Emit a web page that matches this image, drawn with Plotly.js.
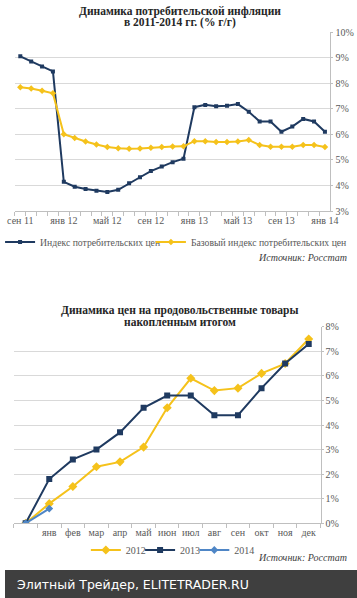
<!DOCTYPE html>
<html>
<head>
<meta charset="utf-8">
<script src="https://cdn.plot.ly/plotly-3.0.1.min.js"></script>
<style>
html,body{margin:0;padding:0;background:#fff;}
#chart{width:357px;height:598px;}
</style>
</head>
<body>
<div id="chart"></div>
<script>
// ---- Chart 1: consumer inflation, % y/y ----
var months = ["сен 11","окт 11","ноя 11","дек 11","янв 12","фев 12","мар 12","апр 12","май 12","июн 12","июл 12","авг 12","сен 12","окт 12","ноя 12","дек 12","янв 13","фев 13","мар 13","апр 13","май 13","июн 13","июл 13","авг 13","сен 13","окт 13","ноя 13","дек 13","янв 14"];
var labeledMonths = ["сен 11","янв 12","май 12","сен 12","янв 13","май 13","сен 13","янв 14"];
var cpi = [9.05, 8.85, 8.65, 8.46, 4.14, 3.95, 3.86, 3.79, 3.74, 3.83, 4.09, 4.32, 4.56, 4.74, 4.91, 5.04, 7.06, 7.15, 7.10, 7.12, 7.18, 6.88, 6.50, 6.50, 6.10, 6.30, 6.60, 6.50, 6.10];
var coreCpi = [7.84, 7.79, 7.70, 7.60, 6.00, 5.85, 5.72, 5.60, 5.50, 5.45, 5.43, 5.44, 5.47, 5.50, 5.52, 5.53, 5.73, 5.73, 5.70, 5.70, 5.72, 5.78, 5.58, 5.51, 5.51, 5.51, 5.58, 5.58, 5.50];
var yTicks1 = [3, 4, 5, 6, 7, 8, 9, 10];

// ---- Chart 2: food prices, cumulative % ----
var foodCats = ["нач.","янв","фев","мар","апр","май","июн","июл","авг","сен","окт","ноя","дек"];
var foodLabels = ["","янв","фев","мар","апр","май","июн","июл","авг","сен","окт","ноя","дек"];
var food2012 = [0, 0.8, 1.5, 2.3, 2.5, 3.1, 4.7, 5.9, 5.4, 5.5, 6.1, 6.5, 7.5];
var food2013 = [0, 1.8, 2.6, 3.0, 3.7, 4.7, 5.2, 5.2, 4.4, 4.4, 5.5, 6.5, 7.3];
var food2014 = [0, 0.6];
var yTicks2 = [0, 1, 2, 3, 4, 5, 6, 7, 8];

var W = 357, H = 598;
function px(x){ return x / W; }
function py(y){ return 1 - y / H; }
function pct(v){ return v + "%"; }

var DARK = "#1f3a60", YEL = "#f5c21b", LBLUE = "#4f86c6";
var SERIF = "Liberation Serif, DejaVu Serif, serif";
var GRID = "#d9d9d9", AXIS = "#bfbfbf", TXT = "#595959";

var traces = [
  {x: months, y: cpi, type: "scatter", mode: "lines+markers", name: "Индекс потребительских цен",
   line: {color: DARK, width: 2}, marker: {symbol: "square", size: 4, color: DARK},
   xaxis: "x", yaxis: "y", legend: "legend"},
  {x: months, y: coreCpi, type: "scatter", mode: "lines+markers", name: "Базовый индекс потребительских цен",
   line: {color: YEL, width: 2}, marker: {symbol: "diamond", size: 5, color: YEL},
   xaxis: "x", yaxis: "y", legend: "legend2"},
  {x: foodCats, y: food2012, type: "scatter", mode: "lines+markers", name: "2012",
   line: {color: YEL, width: 2}, marker: {symbol: "diamond", size: 7, color: YEL},
   xaxis: "x2", yaxis: "y2", legend: "legend3"},
  {x: foodCats, y: food2013, type: "scatter", mode: "lines+markers", name: "2013",
   line: {color: DARK, width: 2}, marker: {symbol: "square", size: 6, color: DARK},
   xaxis: "x2", yaxis: "y2", legend: "legend4"},
  {x: foodCats.slice(0, food2014.length), y: food2014, type: "scatter", mode: "lines+markers", name: "2014",
   line: {color: LBLUE, width: 2}, marker: {symbol: "diamond", size: 6, color: LBLUE},
   xaxis: "x2", yaxis: "y2", legend: "legend5"}
];

function legendAt(xp, yp, fs){
  return {x: px(xp), xanchor: "left", y: py(yp), yanchor: "middle", orientation: "h",
          bgcolor: "rgba(0,0,0,0)", font: {family: SERIF, size: fs || 10, color: TXT}, itemwidth: 30};
}

var layout = {
  width: W, height: H,
  margin: {l: 0, r: 0, t: 0, b: 0},
  paper_bgcolor: "#ffffff", plot_bgcolor: "#ffffff",
  font: {family: SERIF, size: 10, color: TXT},
  showlegend: true,
  legend: legendAt(-5, 242, 9.7),
  legend2: legendAt(148, 242, 9.7),
  legend3: legendAt(82, 550),
  legend4: legendAt(137, 550),
  legend5: legendAt(192, 550),
  xaxis: {
    domain: [px(10), px(330)], anchor: "y", type: "category",
    categoryorder: "array", categoryarray: months,
    range: [-0.5, months.length - 0.5],
    tickvals: months,
    ticktext: months.map(function(m){ return labeledMonths.indexOf(m) >= 0 ? m : ""; }),
    tickangle: 0,
    tickson: "boundaries", ticks: "outside", ticklen: 4, tickcolor: AXIS,
    showline: true, linecolor: AXIS, linewidth: 1, showgrid: false, zeroline: false,
    tickfont: {family: SERIF, size: 10, color: TXT}, fixedrange: true
  },
  yaxis: {
    domain: [py(211), py(32)], anchor: "x", side: "right",
    range: [3, 10], tickmode: "array", tickvals: yTicks1, ticktext: yTicks1.map(pct),
    showgrid: true, gridcolor: GRID, gridwidth: 1,
    showline: true, linecolor: AXIS, ticks: "outside", ticklen: 2, tickcolor: AXIS,
    zeroline: false, tickfont: {family: SERIF, size: 10, color: TXT}, fixedrange: true
  },
  xaxis2: {
    domain: [px(9), px(320)], anchor: "y2", type: "category",
    categoryorder: "array", categoryarray: foodCats,
    range: [-0.5, foodCats.length - 0.5],
    tickvals: foodCats, ticktext: foodLabels, tickangle: 0,
    tickson: "boundaries", ticks: "outside", ticklen: 4, tickcolor: AXIS,
    showline: true, linecolor: AXIS, linewidth: 1, showgrid: false, zeroline: false,
    tickfont: {family: SERIF, size: 10, color: TXT}, fixedrange: true
  },
  yaxis2: {
    domain: [py(523.3), py(326.7)], anchor: "x2", side: "right",
    range: [0, 8], tickmode: "array", tickvals: yTicks2, ticktext: yTicks2.map(pct),
    showgrid: true, gridcolor: GRID, gridwidth: 1,
    showline: true, linecolor: AXIS, ticks: "outside", ticklen: 2, tickcolor: AXIS,
    zeroline: false, tickfont: {family: SERIF, size: 10, color: TXT}, fixedrange: true
  },
  shapes: [
    {type: "rect", xref: "paper", yref: "paper", x0: 0, x1: 1, y0: 0, y1: py(570),
     fillcolor: "#3f3f3f", line: {width: 0}, layer: "above"}
  ],
  annotations: [
    {text: "Динамика потребительской инфляции", xref: "paper", yref: "paper", x: px(177), y: py(11.5),
     xanchor: "center", yanchor: "middle", showarrow: false,
     font: {family: SERIF, size: 11.5, color: "#262626", weight: "bold"}},
    {text: "в 2011-2014 гг. (% г/г)", xref: "paper", yref: "paper", x: px(177), y: py(22.5),
     xanchor: "center", yanchor: "middle", showarrow: false,
     font: {family: SERIF, size: 11.5, color: "#262626", weight: "bold"}},
    {text: "<i>Источник: Росстат</i>", xref: "paper", yref: "paper", x: px(349), y: py(258),
     xanchor: "right", yanchor: "middle", showarrow: false,
     font: {family: SERIF, size: 10, color: "#404040"}},
    {text: "Динамика цен на продовольственные товары", xref: "paper", yref: "paper", x: px(177), y: py(310),
     xanchor: "center", yanchor: "middle", showarrow: false,
     font: {family: SERIF, size: 11.5, color: "#262626", weight: "bold"}},
    {text: "накопленным итогом", xref: "paper", yref: "paper", x: px(177), y: py(321.7),
     xanchor: "center", yanchor: "middle", showarrow: false,
     font: {family: SERIF, size: 11.5, color: "#262626", weight: "bold"}},
    {text: "<i>Источник: Росстат</i>", xref: "paper", yref: "paper", x: px(349), y: py(557),
     xanchor: "right", yanchor: "middle", showarrow: false,
     font: {family: SERIF, size: 10, color: "#404040"}},
    {text: "Элитный Трейдер, ELITETRADER.RU", xref: "paper", yref: "paper", x: px(10), y: py(584),
     xanchor: "left", yanchor: "middle", showarrow: false,
     font: {family: "DejaVu Sans, sans-serif", size: 12.5, color: "#ffffff"}}
  ]
};

Plotly.newPlot("chart", traces, layout, {displayModeBar: false, staticPlot: true});
</script>
</body>
</html>
